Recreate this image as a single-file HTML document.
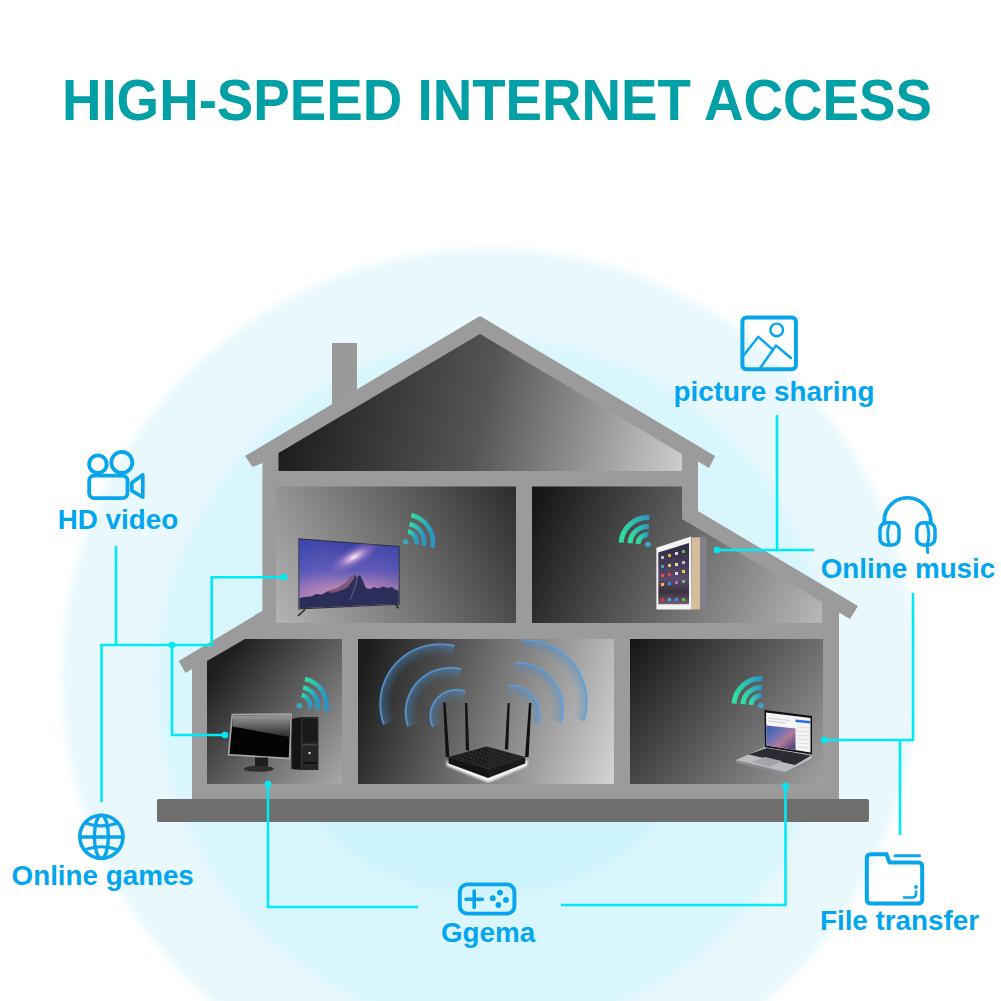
<!DOCTYPE html>
<html><head><meta charset="utf-8">
<style>
html,body{margin:0;padding:0;background:#fff;width:1001px;height:1001px;overflow:hidden}
svg{display:block}
text{font-family:"Liberation Sans",sans-serif;font-weight:bold}
</style></head><body>
<svg width="1001" height="1001" viewBox="0 0 1001 1001">
<defs>
  <radialGradient id="bgOuter">
    <stop offset="0.972" stop-color="#e9f8fd"/>
    <stop offset="1" stop-color="#e9f8fd" stop-opacity="0"/>
  </radialGradient>
  <radialGradient id="bgMid">
    <stop offset="0.96" stop-color="#daf6fd"/>
    <stop offset="1" stop-color="#daf6fd" stop-opacity="0"/>
  </radialGradient>
  <radialGradient id="bgIn">
    <stop offset="0.94" stop-color="#cdf3fc"/>
    <stop offset="1" stop-color="#cdf3fc" stop-opacity="0"/>
  </radialGradient>
  <linearGradient id="gAttic" x1="278" y1="380" x2="682" y2="471" gradientUnits="userSpaceOnUse">
    <stop offset="0" stop-color="#181818"/><stop offset="0.5" stop-color="#555"/><stop offset="1" stop-color="#cdcdcd"/>
  </linearGradient>
  <linearGradient id="g2L" x1="276" y1="623" x2="516" y2="486" gradientUnits="userSpaceOnUse">
    <stop offset="0" stop-color="#b4b4b4"/><stop offset="1" stop-color="#2c2c2c"/>
  </linearGradient>
  <linearGradient id="g2R" x1="540" y1="500" x2="822" y2="623" gradientUnits="userSpaceOnUse">
    <stop offset="0" stop-color="#181818"/><stop offset="1" stop-color="#b8b8b8"/>
  </linearGradient>
  <linearGradient id="g1L" x1="207" y1="680" x2="342" y2="790" gradientUnits="userSpaceOnUse">
    <stop offset="0" stop-color="#1e1e1e"/><stop offset="1" stop-color="#acacac"/>
  </linearGradient>
  <linearGradient id="g1M" x1="358" y1="680" x2="614" y2="760" gradientUnits="userSpaceOnUse">
    <stop offset="0" stop-color="#1c1c1c"/><stop offset="1" stop-color="#d0d0d0"/>
  </linearGradient>
  <linearGradient id="g1R" x1="630" y1="639" x2="823" y2="784" gradientUnits="userSpaceOnUse">
    <stop offset="0" stop-color="#141414"/><stop offset="1" stop-color="#a0a0a0"/>
  </linearGradient>
  <linearGradient id="wifiN" x1="0" y1="0" x2="1" y2="0">
    <stop offset="0" stop-color="#2fe0a4"/><stop offset="1" stop-color="#2b93c4"/>
  </linearGradient>

  <clipPath id="tvClip"><polygon points="299.4,539.4 398.7,547 398.7,603.7 299.4,608.3"/></clipPath>
  <filter id="blur1" x="-20%" y="-20%" width="140%" height="140%"><feGaussianBlur stdDeviation="0.9"/></filter>
  <linearGradient id="tvSky" x1="0" y1="0" x2="0" y2="1">
    <stop offset="0" stop-color="#343ea6"/><stop offset="0.45" stop-color="#5e5ab8"/><stop offset="0.72" stop-color="#c08ab6"/><stop offset="1" stop-color="#e0a0a8"/>
  </linearGradient>
  <linearGradient id="tvSky2" x1="0" y1="0" x2="1" y2="0">
    <stop offset="0" stop-color="#4050c0" stop-opacity="0.35"/><stop offset="0.5" stop-color="#a070c0" stop-opacity="0"/><stop offset="1" stop-color="#4048a8" stop-opacity="0.35"/>
  </linearGradient>
  <radialGradient id="glow"><stop offset="0" stop-color="#fff" stop-opacity="0.95"/><stop offset="0.25" stop-color="#f4d0e8" stop-opacity="0.7"/><stop offset="0.6" stop-color="#c890d0" stop-opacity="0.35"/><stop offset="1" stop-color="#a080d0" stop-opacity="0"/></radialGradient>
  <linearGradient id="ipadScr" x1="0" y1="0" x2="0" y2="1">
    <stop offset="0" stop-color="#2c2a40"/><stop offset="0.6" stop-color="#5a4a6a"/><stop offset="0.8" stop-color="#3a3040"/><stop offset="1" stop-color="#706070"/>
  </linearGradient>
  <linearGradient id="gloss" x1="0" y1="0" x2="0" y2="1">
    <stop offset="0" stop-color="#9a9a9a"/><stop offset="1" stop-color="#2a2a2a"/>
  </linearGradient>
  <linearGradient id="lapImg" x1="0" y1="0" x2="1" y2="1">
    <stop offset="0" stop-color="#3a5cb0"/><stop offset="0.35" stop-color="#6a70b8"/><stop offset="0.6" stop-color="#b07a9a"/><stop offset="1" stop-color="#3e3a78"/>
  </linearGradient>
  <pattern id="routerDots" width="3.5" height="3.5" patternUnits="userSpaceOnUse" patternTransform="rotate(20)">
    <rect width="3.5" height="3.5" fill="#1b1b1b"/><rect x="0.8" y="0.8" width="1.6" height="1.4" fill="#3c3c3c"/>
  </pattern>
<radialGradient id="a1" gradientUnits="userSpaceOnUse" cx="440" cy="704" r="61"><stop offset="0.787" stop-color="#4a88c8" stop-opacity="0"/><stop offset="0.951" stop-color="#4a8ccc" stop-opacity="0.4"/><stop offset="0.984" stop-color="#5aa2e6" stop-opacity="0.95"/><stop offset="1" stop-color="#5aa2e6" stop-opacity="0.3"/></radialGradient><radialGradient id="a2" gradientUnits="userSpaceOnUse" cx="450.3" cy="712.5" r="45.8"><stop offset="0.716" stop-color="#4a88c8" stop-opacity="0"/><stop offset="0.934" stop-color="#4a8ccc" stop-opacity="0.4"/><stop offset="0.978" stop-color="#5aa2e6" stop-opacity="0.95"/><stop offset="1" stop-color="#5aa2e6" stop-opacity="0.3"/></radialGradient><radialGradient id="a3" gradientUnits="userSpaceOnUse" cx="456.5" cy="716" r="27.3"><stop offset="0.524" stop-color="#4a88c8" stop-opacity="0"/><stop offset="0.890" stop-color="#4a8ccc" stop-opacity="0.4"/><stop offset="0.963" stop-color="#5aa2e6" stop-opacity="0.95"/><stop offset="1" stop-color="#5aa2e6" stop-opacity="0.3"/></radialGradient><radialGradient id="a4" gradientUnits="userSpaceOnUse" cx="525" cy="702" r="63"><stop offset="0.794" stop-color="#4a88c8" stop-opacity="0"/><stop offset="0.952" stop-color="#4a8ccc" stop-opacity="0.4"/><stop offset="0.984" stop-color="#5aa2e6" stop-opacity="0.95"/><stop offset="1" stop-color="#5aa2e6" stop-opacity="0.3"/></radialGradient><radialGradient id="a5" gradientUnits="userSpaceOnUse" cx="517.7" cy="708.5" r="46.6"><stop offset="0.721" stop-color="#4a88c8" stop-opacity="0"/><stop offset="0.936" stop-color="#4a8ccc" stop-opacity="0.4"/><stop offset="0.979" stop-color="#5aa2e6" stop-opacity="0.95"/><stop offset="1" stop-color="#5aa2e6" stop-opacity="0.3"/></radialGradient><radialGradient id="a6" gradientUnits="userSpaceOnUse" cx="510.8" cy="714.5" r="30"><stop offset="0.567" stop-color="#4a88c8" stop-opacity="0"/><stop offset="0.900" stop-color="#4a8ccc" stop-opacity="0.4"/><stop offset="0.967" stop-color="#5aa2e6" stop-opacity="0.95"/><stop offset="1" stop-color="#5aa2e6" stop-opacity="0.3"/></radialGradient>
  <filter id="blur05" x="-20%" y="-20%" width="140%" height="140%"><feGaussianBlur stdDeviation="0.6"/></filter>
</defs>

<!-- background circles -->
<rect x="0" y="0" width="1001" height="1001" fill="#fff"/>
<ellipse cx="489" cy="676" rx="433" ry="433" fill="url(#bgOuter)"/>
<ellipse cx="493.5" cy="683" rx="344" ry="352" fill="url(#bgMid)"/>
<ellipse cx="487.5" cy="664" r="240" rx="240" ry="240" fill="url(#bgIn)"/>

<!-- title -->
<text x="497" y="120" text-anchor="middle" font-size="54.7" fill="#00a0a6" transform="translate(0,120) scale(1,1.06) translate(0,-120)">HIGH-SPEED INTERNET ACCESS</text>

<!-- HOUSE -->
<g id="house">
  <!-- chimney -->
  <rect x="332" y="343" width="25" height="70" fill="#9a9a9a"/>
  <!-- main body silhouette -->
  <path fill="#9b9b9b" d="M480,316 L715,456 L709,468 L698,461.5 L698,511 L858,606 L850,619 L839,612.5 L839,800 L192,800 L192,669 L185.6,673 L178.7,661 L262.4,610.8 L262.4,463 L252.5,467 L245,456 Z"/>
  <!-- rooms -->
  <path fill="url(#gAttic)" d="M480,334 L682,454 L682,471 L278.5,471 L278.5,453 Z"/>
  <rect x="276" y="486.5" width="240" height="136.5" fill="url(#g2L)"/>
  <path fill="url(#g2R)" d="M532,486.5 L682,486.5 L682,519 L822,602 L822,623 L532,623 Z"/>
  <path fill="url(#g1L)" d="M207,661 L245,639 L342,639 L342,784 L207,784 Z"/>
  <rect x="358" y="639" width="256" height="145" fill="url(#g1M)"/>
  <rect x="630" y="639" width="193" height="145" fill="url(#g1R)"/>
  <!-- slab -->
  <rect x="157" y="799" width="712" height="23" rx="2" fill="#6e6e6e"/>
</g>



<!-- router signal arcs -->
<g filter="url(#blur05)"><path d="M382.7,724.9 A61,61 0 0 1 454.8,644.8 L451.6,657.4 A48,48 0 0 0 394.9,720.4 Z" fill="url(#a1)"/><path d="M406.7,726.7 A45.8,45.8 0 0 1 461.4,668.1 L458.2,680.7 A32.8,32.8 0 0 0 419.1,722.6 Z" fill="url(#a2)"/><path d="M431.8,727.5 A27.3,27.3 0 0 1 465.8,690.3 L461.4,702.6 A14.3,14.3 0 0 0 443.5,722.0 Z" fill="url(#a3)"/><path d="M522.8,639.0 A63,63 0 0 1 584.9,721.5 L572.6,717.5 A50,50 0 0 0 523.3,652.0 Z" fill="url(#a4)"/><path d="M515.3,662.0 A46.6,46.6 0 0 1 562.0,722.9 L549.7,718.9 A33.6,33.6 0 0 0 515.9,674.9 Z" fill="url(#a5)"/><path d="M509.2,684.5 A30,30 0 0 1 539.2,724.3 L526.9,720.0 A17,17 0 0 0 509.9,697.5 Z" fill="url(#a6)"/></g>
<!-- router -->
<g>
  <path d="M446,761 L447,766 L486,781.5 Q488.5,782.5 491,781.5 L527,766 L528,760 L488,776 Z" fill="#f4f4f4" filter="url(#blur1)"/>
  <polygon points="448.6,757 488,769 488,778 448.6,763.5" fill="#141414"/>
  <polygon points="488,769 525.2,757 525.2,763.5 488,778" fill="#1a1a1a"/>
  <polygon points="448.6,757 486.4,746.4 525.2,757 488,769" fill="url(#routerDots)"/>
  <polygon points="486.4,746.4 525.2,757 488,769" fill="#2a2a2a" opacity="0.35"/>
  <polygon points="443.2,702.5 445.6,702.5 449.4,757 445.8,757" fill="#111"/>
  <polygon points="465,703 467.3,703 469.2,750.6 465.8,750.6" fill="#141414"/>
  <polygon points="507.6,703 509.8,703 508.2,749.6 504.8,749.6" fill="#141414"/>
  <polygon points="529,703 531.4,703 528.6,757 525,757" fill="#111"/>
</g>
<!-- TV -->
<g>
  <polygon points="298.4,538.2 399.7,546 399.7,604.7 298.4,609.5" fill="#30303a"/>
  <polygon points="299.4,539.4 398.7,547 398.7,603.7 299.4,608.3" fill="url(#tvSky)"/>
  <polygon points="299.4,539.4 398.7,547 398.7,603.7 299.4,608.3" fill="url(#tvSky2)"/>
  <ellipse cx="354" cy="557" rx="28" ry="10" transform="rotate(-29 354 557)" fill="url(#glow)" clip-path="url(#tvClip)"/>
  <path d="M299.4,598 L305,597 L311,596.5 L316,594 L322,594.5 L328,591 L333,589.5 L338,588 L342,585 L346,583 L349,578.5 L352,576 L355,574.5 L357,577 L360,575 L362,579 L364,583.5 L366,588 L370,589 L374,587 L378,588.5 L383,586.5 L388,588 L392,587 L395,589.5 L398.7,590.5 L398.7,603.7 L299.4,608.3 Z" fill="#2a2e58"/>
  <path d="M328,591 L333,589.5 L338,588 L342,585 L346,583 L349,578.5 L352,576 L355,574.5 L354,579 L350,584 L347,588 L342,590 L336,592 L330,593 Z" fill="#c87890" opacity="0.55"/>
  <path d="M355,574.5 L357,577 L356,584 L353,592 L350,600" stroke="#9aa0c8" stroke-width="0.8" fill="none" opacity="0.6"/>
  <path d="M305,609.5 L298,616" stroke="#222" stroke-width="1.4"/>
  <path d="M395.5,604 L398.5,608.5" stroke="#222" stroke-width="1.4"/>
</g>
<!-- iPad -->
<g>
  <rect x="700" y="537.3" width="6.7" height="72.1" fill="#80818a"/>
  <rect x="691.5" y="537.3" width="8.5" height="72.1" fill="#d6bb9d"/>
  <polygon points="656.4,547.8 691,536.4 691.5,609.4 656.4,609.4" fill="#f3f3f3"/>
  <polygon points="658.3,552.5 689,543 689,604.2 658.3,604.2" fill="url(#ipadScr)"/>
  <g fill="#e0d040" opacity="0.9">
    <rect x="661" y="556" width="3" height="3" fill="#ccc"/><rect x="668" y="554" width="3" height="3" fill="#f0c040"/><rect x="675" y="552" width="3" height="3" fill="#eee"/><rect x="682" y="550" width="3" height="3" fill="#5c5"/>
    <rect x="661" y="565" width="3" height="3" fill="#4ac"/><rect x="668" y="564" width="3" height="3" fill="#dd6"/><rect x="675" y="563" width="3" height="3" fill="#eee"/><rect x="682" y="561" width="3" height="3" fill="#ccc"/>
    <rect x="661" y="574" width="3" height="3" fill="#d55"/><rect x="668" y="573" width="3" height="3" fill="#e44"/><rect x="675" y="572" width="3" height="3" fill="#eee"/><rect x="682" y="570" width="3" height="3" fill="#ee3"/>
    <rect x="661" y="583" width="3" height="3" fill="#fc3"/><rect x="668" y="582" width="3" height="3" fill="#39e"/><rect x="675" y="581" width="3" height="3" fill="#c6c"/><rect x="682" y="580" width="3" height="3" fill="#6c8"/>
    <rect x="661" y="598" width="3" height="3" fill="#e33"/><rect x="668" y="598" width="3" height="3" fill="#5ae"/><rect x="675" y="598" width="3" height="3" fill="#39f"/><rect x="682" y="598" width="3" height="3" fill="#6c4"/>
  </g>
</g>

<!-- monitor + PC -->
<g>
  <polygon points="291.4,719 301.3,717 301.3,770 291.4,769" fill="#141414"/>
  <rect x="301.3" y="717" width="17.1" height="53" fill="#262626"/>
  <rect x="302.5" y="719" width="14.7" height="23" fill="#1a1a1a"/>
  <rect x="302.5" y="744" width="14.7" height="1.5" fill="#444"/>
  <rect x="303" y="762" width="14" height="2" fill="#111"/>
  <circle cx="309.5" cy="753" r="1.2" fill="#ddd"/>
  <polygon points="231.5,713.8 292,713.2 290.3,759.4 227.7,755.5" fill="#a4a4a4"/>
  <polygon points="233,715.5 290.3,715 288.8,757.6 229.5,754" fill="#040404"/>
  <polygon points="233,715.5 290.3,715 289.3,737 232.2,726.4" fill="url(#gloss)"/>
  <rect x="255" y="757.5" width="13" height="9" fill="#1e1e1e"/>
  <ellipse cx="258.7" cy="768.8" rx="15" ry="3" fill="#2e2e2e"/>
</g>

<!-- laptop -->
<g>
  <polygon points="736,760 765,747 812,754.4 811,759 785,774.4 737,762.5" fill="#bcbcc0"/>
  <polygon points="736,760 785,772 811,759 811,760.5 785,775.5 737,762.5" fill="#8a8a90"/>
  <polygon points="748.5,754.5 767,748 811,755.5 795,765" fill="#2b2c33"/>
  <polygon points="752,762 765,757 782,761 770,767" fill="#a4a4aa"/>
  <polygon points="764.5,710 812,716 812,754.4 765,747" fill="#0e0e10"/>
  <polygon points="766,712.5 810.5,718 810.5,752.5 766.5,745.5" fill="#f4f4f6"/>
  <g stroke="#b8b8c0" stroke-width="0.6"><line x1="768" y1="718" x2="790" y2="720.5"/><line x1="768" y1="721" x2="785" y2="723"/></g>
  <polygon points="795.5,719.5 810.5,721 810.5,723.5 795.5,722" fill="#2a6fe0"/>
  <polygon points="766.3,725.5 795.5,728.5 795.5,750 766.5,745.5" fill="url(#lapImg)"/>
  <g stroke="#c8c8cc" stroke-width="0.5"><line x1="797" y1="727" x2="810" y2="728"/><line x1="797" y1="731" x2="810" y2="732"/><line x1="797" y1="735" x2="810" y2="736"/><line x1="797" y1="739" x2="810" y2="740"/><line x1="797" y1="743" x2="810" y2="744"/><line x1="797" y1="747" x2="810" y2="748"/></g>
</g>

<!-- wifi symbols -->
<g fill="none" stroke-linecap="butt">
  <g transform="translate(405.7,542)" stroke="url(#wifiN)" stroke-width="4.6"><path d="M2.3,-10.8 A11,11 0 0 1 10.8,2.3"/><path d="M3.8,-18.1 A18.5,18.5 0 0 1 18.1,3.8"/><path d="M5.7,-26.7 A27.3,27.3 0 0 1 26.7,5.7"/><circle r="2.8" fill="#3aa6c8" stroke="none"/></g>
  <g transform="translate(299.4,705.7)" stroke="url(#wifiN)" stroke-width="4.6"><path d="M2.3,-10.8 A11,11 0 0 1 10.8,2.3"/><path d="M3.8,-18.1 A18.5,18.5 0 0 1 18.1,3.8"/><path d="M5.7,-26.7 A27.3,27.3 0 0 1 26.7,5.7"/><circle r="2.8" fill="#3aa6c8" stroke="none"/></g>
  <g transform="translate(648,544.5)" stroke="url(#wifiN)" stroke-width="5"><path d="M-10.0,-0.7 A10,10 0 0 1 0.5,-10.0"/><path d="M-18.0,-1.3 A18,18 0 0 1 0.9,-18.0"/><path d="M-26.9,-1.9 A27,27 0 0 1 1.4,-27.0"/><circle r="2.8" fill="#3aa6c8" stroke="none"/></g>
  <g transform="translate(761,705.5)" stroke="url(#wifiN)" stroke-width="5"><path d="M-10.0,-0.7 A10,10 0 0 1 0.5,-10.0"/><path d="M-18.0,-1.3 A18,18 0 0 1 0.9,-18.0"/><path d="M-26.9,-1.9 A27,27 0 0 1 1.4,-27.0"/><circle r="2.8" fill="#3aa6c8" stroke="none"/></g>
</g>

<!-- connector lines -->
<g stroke="#00eaf6" stroke-width="2.6" fill="none">
  <polyline points="777,415 777,550 814,550"/>
  <line x1="717" y1="550" x2="777" y2="550"/>
  <polyline points="116,546 116,645"/>
  <polyline points="101.5,802 101.5,645 211.7,645 211.7,577.2 284,577.2"/>
  <polyline points="172,645 172,735 225,735"/>
  <polyline points="268,784 268,907 418,907"/>
  <polyline points="561,905 785.5,905 785.5,786"/>
  <polyline points="913,593 913,740 824,740"/>
  <polyline points="900,740 900,835"/>
</g>
<g fill="#00eaf6">
  <circle cx="717" cy="550" r="3.3"/>
  <circle cx="172" cy="645" r="3.3"/>
  <circle cx="284" cy="577" r="3.3"/>
  <circle cx="225" cy="735" r="3.3"/>
  <circle cx="268" cy="784" r="3.3"/>
  <circle cx="785.5" cy="786" r="3.3"/>
  <circle cx="824" cy="740" r="3.3"/>
</g>

<!-- labels -->
<g fill="#02a6ef" font-size="27.8">
  <text x="774" y="400.5" text-anchor="middle">picture sharing</text>
  <text x="118" y="529" text-anchor="middle">HD video</text>
  <text x="908" y="577.5" text-anchor="middle">Online music</text>
  <text x="102.7" y="885" text-anchor="middle">Online games</text>
  <text x="488" y="942" text-anchor="middle">Ggema</text>
  <text x="899.5" y="930" text-anchor="middle">File transfer</text>
</g>


<!-- icons -->
<g fill="none" stroke="#08a4ec" stroke-linecap="round" stroke-linejoin="round">
  <!-- picture -->
  <rect x="742.4" y="317.6" width="53.5" height="51.6" rx="4" stroke-width="4"/>
  <circle cx="776.7" cy="329.9" r="6.3" stroke-width="2.4"/>
  <polyline points="744,355 758.3,336.8 772.6,349.4" stroke-width="2.4"/>
  <polyline points="760.5,367.5 776,345.5 791,358" stroke-width="2.4"/>
  <!-- camera -->
  <rect x="89.2" y="475.6" width="38.3" height="22.6" rx="5" stroke-width="3.8"/>
  <circle cx="97.9" cy="464.2" r="8.8" stroke-width="3.8"/>
  <circle cx="121.8" cy="462.4" r="10.5" stroke-width="3.8"/>
  <polygon points="131.8,482.8 142.8,474.8 142.8,497.2 131.8,490.6" stroke-width="3.6"/>
  <!-- headphones -->
  <path d="M884.2,523.5 L884.2,521 A23.25,23.25 0 0 1 930.7,521 L930.7,523.5" stroke-width="3.7"/>
  <rect x="880" y="522.8" width="19" height="22.2" rx="6.5" stroke-width="3.5"/>
  <rect x="916.8" y="522.8" width="18.2" height="22.2" rx="6.5" stroke-width="3.5"/>
  <path d="M889.3,524.5 Q885.8,534 889.3,544.5" stroke-width="2.8"/>
  <path d="M926.6,524 Q930.8,534 927.2,545 L927.6,552.5" stroke-width="3"/>
  <!-- globe -->
  <circle cx="101.4" cy="836.8" r="21.6" stroke-width="3.6"/>
  <ellipse cx="101.4" cy="836.8" rx="7" ry="21.6" stroke-width="3.4"/>
  <line x1="80" y1="837" x2="123" y2="837" stroke-width="3.4"/>
  <path d="M85.5,823.3 Q101.4,828.5 117.3,823.3" stroke-width="3.2"/>
  <path d="M85.5,849.5 Q101.4,844 117.3,849.5" stroke-width="3.2"/>
  <!-- gamepad -->
  <rect x="459.8" y="884.4" width="54.6" height="29.2" rx="7.5" stroke-width="3.9"/>
  <path d="M466,899.3 L482.5,899.3 M474.2,891 L474.2,907.5" stroke-width="3.6"/>
  <!-- folder -->
  <path d="M870.8,854.2 L886.5,854.2 L889.5,862.6 L918.2,862.6 Q922.2,862.6 922.2,866.6 L922.2,899.6 Q922.2,903.6 918.2,903.6 L870.8,903.6 Q866.8,903.6 866.8,899.6 L866.8,858.2 Q866.8,854.2 870.8,854.2 Z" stroke-width="4"/>
  <path d="M895,855.8 L919.5,855.8" stroke-width="3"/>
  <path d="M904,897.5 L912.5,897.5 Q916,897.5 916,893.5 L916,891.5" stroke-width="2.6"/>
  <circle cx="916" cy="887" r="0.9" stroke-width="2"/>
</g>
<g fill="#08a4ec">
  <circle cx="500" cy="892.6" r="2.9"/>
  <circle cx="492.8" cy="898.2" r="2.9"/>
  <circle cx="506" cy="900" r="2.9"/>
  <circle cx="498.4" cy="905" r="2.9"/>
</g>

</svg>
</body></html>
